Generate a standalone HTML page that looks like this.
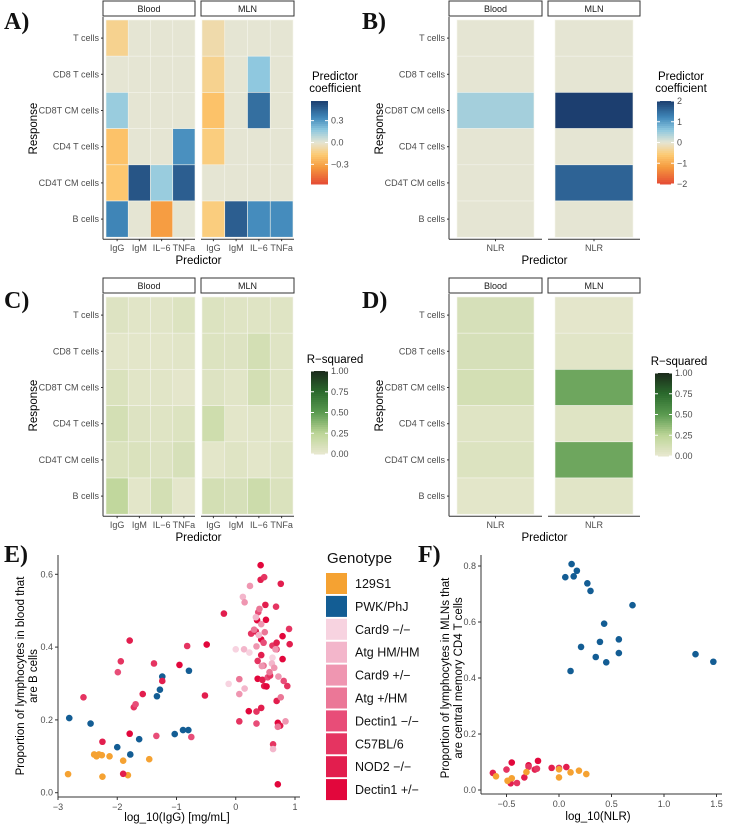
<!DOCTYPE html>
<html><head><meta charset="utf-8"><style>
body{margin:0;background:#fff}
svg{display:block;font-family:"Liberation Sans",Arial,sans-serif}
.tk{font-size:9px;fill:#4d4d4d}
.at{font-size:11.5px;fill:#000}
.lt{font-family:"Liberation Serif",serif;font-size:24px;font-weight:bold;fill:#111}
.st{font-size:9px;fill:#1a1a1a}
</style></head><body>
<svg id="fig" width="729" height="824" viewBox="0 0 729 824"></svg>
<script>
const rows=["T cells","CD8 T cells","CD8T CM cells","CD4 T cells","CD4T CM cells","B cells"];
const predA=["IgG","IgM","IL\u22126","TNFa"];
const coefBlood=[[-0.12,0,0,0],[0,0,0,0],[0.15,0,0,0],[-0.2,0,0,0.32],[-0.18,0.5,0.15,0.47],[0.35,0,-0.33,0]];
const coefMLN=[[-0.07,0,0,0],[-0.12,0,0.17,0],[-0.2,0,0.42,0],[-0.15,0,0,0],[0,0,0,0],[-0.15,0.47,0.33,0.33]];
const coefNLRBlood=[0,0,0.45,0,0,0];
const coefNLRMLN=[0,0,2.0,0,1.6,0];
const r2Blood=[[.06,.04,.04,.07],[.03,.03,.03,.04],[.08,.04,.04,.02],[.12,.06,.05,.07],[.08,.08,.06,.1],[.22,.03,.12,.02]];
const r2MLN=[[.07,.05,.05,.05],[.07,.06,.12,.05],[.06,.04,.12,.05],[.15,.03,.04,.03],[.03,.05,.03,.05],[.12,.1,.16,.08]];
const r2NLRBlood=[.1,.1,.12,.05,.07,.03];
const r2NLRMLN=[.02,.04,.45,.05,.45,.04];
const genotypes=["129S1","PWK/PhJ","Card9 \u2212/\u2212","Atg HM/HM","Card9 +/\u2212","Atg +/HM","Dectin1 \u2212/\u2212","C57BL/6","NOD2 \u2212/\u2212","Dectin1 +/\u2212"];
const genoColors=["#f5a232","#135d94","#f7d3e0","#f3b6cb","#ef96b1","#eb7797","#e84d78","#e53461","#e21e4e","#e2073c"];
const eX=[-2.83,-2.39,-2.35,-2.31,-2.26,-2.13,-2.25,-1.9,-1.82,-1.46,
-2.81,-2.45,-2.0,-1.78,-1.63,-1.33,-1.28,-1.24,-1.03,-0.89,-0.8,-0.79,
-2.57,-2.25,-1.99,-1.94,-1.79,-1.79,-1.9,-1.72,-1.69,-1.57,-1.38,-1.34,-1.24,-0.95,-0.82,-0.75,-0.52,-0.49,
-0.2,0.06,0.42,0.42,0.48,0.5,0.51,0.68,0.76,0.38,0.36,0.26,0.34,0.43,0.47,0.62,0.69,0.79,0.9,0.91,0.69,0.79,0.43,0.37,0.37,0.45,0.54,0.58,0.48,0.52,0.81,0.87,0.69,0.22,0.35,0.43,0.35,0.71,0.75,0.63,0.71,
0,0.14,0.23,0.24,0.12,0.15,0.4,0.34,0.43,0.31,0.39,0.35,0.06,-0.12,0.15,0.06,0.47,0.62,0.61,0.65,0.57,0.72,0.76,0.84,0.71,0.63,0.67,0.49,0.44];
const eY=[.051,.105,.1,.105,.103,.1,.044,.088,.048,.092,
.205,.19,.125,.105,.147,.265,.283,.319,.161,.172,.172,.335,
.262,.14,.331,.361,.418,.162,.052,.235,.243,.271,.355,.156,.307,.351,.403,.153,.267,.407,
.492,.196,.625,.585,.592,.516,.475,.511,.574,.496,.474,.437,.443,.421,.412,.404,.412,.43,.45,.408,.394,.367,.378,.362,.313,.31,.317,.322,.293,.292,.307,.293,.252,.224,.223,.233,.19,.192,.184,.133,.023,
.394,.394,.385,.568,.538,.523,.505,.482,.463,.448,.433,.402,.312,.299,.286,.271,.349,.371,.355,.343,.331,.319,.262,.196,.181,.12,.394,.441,.348];
const eG=[0,0,0,0,0,0,0,0,0,0,
1,1,1,1,1,1,1,1,1,1,1,1,
7,8,6,7,8,9,8,7,6,8,7,6,8,9,7,6,8,9,
8,7,9,8,7,8,9,7,8,6,9,7,8,9,6,7,8,9,7,8,6,9,8,7,9,8,6,7,8,9,6,7,8,9,7,8,6,9,8,7,9,
2,3,2,4,3,4,5,3,4,5,3,4,5,2,3,4,5,2,3,4,5,4,5,4,5,3,4,5,4];
const fX=[0.12,0.17,0.06,0.14,0.27,0.3,0.7,0.43,0.39,0.57,0.21,0.57,0.35,0.45,0.11,1.3,1.47,
-0.63,-0.5,-0.45,-0.46,-0.4,-0.33,-0.29,-0.29,-0.23,-0.21,-0.2,-0.07,0,0.07,
-0.6,-0.49,-0.45,-0.31,0,0,0.11,0.19,0.26];
const fY=[.807,.783,.76,.763,.738,.711,.66,.594,.529,.538,.511,.489,.475,.456,.425,.485,.458,
.061,.073,.098,.024,.025,.045,.088,.083,.073,.076,.104,.079,.079,.082,
.049,.033,.042,.064,.074,.045,.063,.069,.057];
const fG=[1,1,1,1,1,1,1,1,1,1,1,1,1,1,1,1,1,
8,7,9,8,7,8,9,7,8,7,9,8,7,8,
0,0,0,0,0,0,0,0,0];

const NS="http://www.w3.org/2000/svg";
const svg=document.getElementById('fig');
function el(tag,attrs,parent,txt){const e=document.createElementNS(NS,tag);for(const k in attrs)e.setAttribute(k,attrs[k]);if(txt!==undefined)e.textContent=txt;(parent||svg).appendChild(e);return e;}
function hex(h){return [1,3,5].map(i=>parseInt(h.substr(i,2),16));}
function interp(stops,t){t=Math.max(stops[0][0],Math.min(stops[stops.length-1][0],t));for(let i=0;i<stops.length-1;i++){const a=stops[i],b=stops[i+1];if(t<=b[0]){const f=(t-a[0])/(b[0]-a[0]);const ca=hex(a[1]),cb=hex(b[1]);return 'rgb('+ca.map((v,j)=>Math.round(v+(cb[j]-v)*f)).join(',')+')';}}return stops[stops.length-1][1];}
const divStops=[[-1,'#e54b34'],[-0.6,'#f59a3e'],[-0.3,'#fdca72'],[0,'#e5e5d3'],[0.3,'#8ec8df'],[0.6,'#4088ba'],[1,'#1c3e6f']];
const grnStops=[[0,'#e8e8d0'],[0.25,'#bcd596'],[0.5,'#5a9a50'],[0.75,'#2b6a2d'],[1,'#1b2a1b']];
const divCol=(v,m)=>interp(divStops,v/m);
const grnCol=v=>interp(grnStops,v);

function letter(t,x,y){const e=el('text',{x:x,y:y,class:'lt'},svg,t);}

function heatPanel(id,ox,oy,axisX,facets,preds,valsList,colFn){
  const top=oy+20, rh=36.2;
  const g=el('g',{});
  facets.forEach((f,fi)=>{
    const s=el('rect',{x:f.sx0,y:oy+1,width:f.sx1-f.sx0,height:15,fill:'#fff',stroke:'#333','stroke-width':1},g);
    
    el('text',{x:(f.sx0+f.sx1)/2,y:oy+12,class:'st','text-anchor':'middle'},g,f.name);
    const vals=valsList[fi];const nc=preds.length;const cw=(f.x1-f.x0)/nc;
    rows.forEach((r,ri)=>{preds.forEach((p,ci)=>{
      const v=nc===1?vals[ri]:vals[ri][ci];
      const c=el('rect',{x:f.x0+ci*cw,y:top+ri*rh,width:cw,height:rh,fill:colFn(v),stroke:'#f4f4ec','stroke-width':0.6},g);
      
    });});
    el('line',{x1:f.sx0,x2:f.sx1,y1:top+6*rh+2,y2:top+6*rh+2,stroke:'#333','stroke-width':1},g);
    preds.forEach((p,ci)=>{const cx=f.x0+(ci+0.5)*cw;el('line',{x1:cx,x2:cx,y1:top+6*rh+2,y2:top+6*rh+4,stroke:'#333'},g);
      el('text',{x:cx,y:top+6*rh+14,class:'tk','text-anchor':'middle'},g,p);});
  });
  el('line',{x1:axisX,x2:axisX,y1:oy+17,y2:top+6*rh+2,stroke:'#333','stroke-width':1},g);
  rows.forEach((r,ri)=>{const cy=top+(ri+0.5)*rh;el('line',{x1:axisX-2,x2:axisX,y1:cy,y2:cy,stroke:'#333'},g);
    el('text',{x:axisX-4,y:cy+3,class:'tk','text-anchor':'end'},g,r);});
  const xt=el('text',{x:(facets[0].sx0+facets[1].sx1)/2,y:top+6*rh+27,class:'at','text-anchor':'middle'},g,'Predictor');
  
  const yt=el('text',{transform:'translate('+(axisX-66)+','+(top+3*rh)+') rotate(-90)',class:'at','text-anchor':'middle'},g,'Response');
  
}
function colorbar(id,x,y,title,stops,ticks,labels,min,max){
  const g=el('g',{});
  const h=83;const n=40;
  title.forEach((t,i)=>el('text',{x:x+24,y:(title.length>1?y-21:y-8)+i*12,class:'at','text-anchor':'middle','font-size':'11.5'},g,t));
  for(let i=0;i<n;i++){const v=max-(max-min)*(i+0.5)/n;el('rect',{x:x,y:y+i*h/n,width:17,height:h/n+0.5,fill:interp(stops,v)},g);}
  ticks.forEach((t,i)=>{const ty=y+(max-t)/(max-min)*h;el('line',{x1:x,x2:x+3,y1:ty,y2:ty,stroke:'#fff'},g);el('line',{x1:x+14,x2:x+17,y1:ty,y2:ty,stroke:'#fff'},g);
    el('text',{x:x+20,y:ty+3,class:'tk','font-size':'9','fill':'#222'},g,labels[i]);});
}

letter('A)',4,29);
heatPanel('heatmap-a',0,0,103,[{name:'Blood',sx0:103,sx1:195,x0:106,x1:195},{name:'MLN',sx0:201,sx1:294,x0:202,x1:293}],predA,[coefBlood,coefMLN],v=>divCol(v,0.57));
colorbar('legend-a',311,101,['Predictor','coefficient'],divStops.map(s=>[s[0]*0.57,s[1]]),[0.3,0,-0.3],['0.3','0.0','\u22120.3'],-0.57,0.57);
letter('B)',362,29);
heatPanel('heatmap-b',0,0,449,[{name:'Blood',sx0:449,sx1:542,x0:457,x1:534},{name:'MLN',sx0:548,sx1:640,x0:555,x1:633}],['NLR'],[coefNLRBlood,coefNLRMLN],v=>divCol(v,2));
colorbar('legend-b',657,101,['Predictor','coefficient'],divStops.map(s=>[s[0]*2,s[1]]),[2,1,0,-1,-2],['2','1','0','\u22121','\u22122'],-2,2);
letter('C)',4,308);
heatPanel('heatmap-c',0,277,103,[{name:'Blood',sx0:103,sx1:195,x0:106,x1:195},{name:'MLN',sx0:201,sx1:294,x0:202,x1:293}],predA,[r2Blood,r2MLN],grnCol);
colorbar('legend-c',311,371,['R\u2212squared'],grnStops,[1,0.75,0.5,0.25,0],['1.00','0.75','0.50','0.25','0.00'],0,1);
letter('D)',362,308);
heatPanel('heatmap-d',0,277,449,[{name:'Blood',sx0:449,sx1:542,x0:457,x1:534},{name:'MLN',sx0:548,sx1:640,x0:555,x1:633}],['NLR'],[r2NLRBlood,r2NLRMLN],grnCol);
colorbar('legend-d',655,373,['R\u2212squared'],grnStops,[1,0.75,0.5,0.25,0],['1.00','0.75','0.50','0.25','0.00'],0,1);

letter('E)',4,562);
const exs=v=>58+(v+3)*59.25, eys=v=>792.7-v*364;
const ge=el('g',{});
el('line',{x1:58,x2:58,y1:555,y2:797,stroke:'#333'},ge);el('line',{x1:58,x2:300,y1:797,y2:797,stroke:'#333'},ge);
[-3,-2,-1,0,1].forEach(t=>{const x=exs(t);el('line',{x1:x,x2:x,y1:797,y2:800,stroke:'#333'},ge);el('text',{x:x,y:810,class:'tk','text-anchor':'middle'},ge,t<0?'\u2212'+(-t):String(t));});
[0,0.2,0.4,0.6].forEach(t=>{const y=eys(t);el('line',{x1:55,x2:58,y1:y,y2:y,stroke:'#333'},ge);el('text',{x:53,y:y+3,class:'tk','text-anchor':'end'},ge,t.toFixed(1));});
eX.forEach((v,i)=>{const c=el('circle',{cx:exs(v),cy:eys(eY[i]),r:3.3,fill:genoColors[eG[i]]},ge);});
el('text',{x:177,y:821,class:'at','text-anchor':'middle'},ge,'log_10(IgG) [mg/mL]');
const ey=el('text',{transform:'translate(24,676) rotate(-90)',class:'at','text-anchor':'middle'},ge);
el('tspan',{x:0,dy:0},ey,'Proportion of lymphocytes in blood that');el('tspan',{x:0,dy:13},ey,'are B cells');

const gl=el('g',{});
el('text',{x:327,y:563,'font-size':'15','fill':'#111'},gl,'Genotype');
genotypes.forEach((gname,i)=>{const y=573+i*22.9;const r=el('rect',{x:326,y:y,width:21,height:21,fill:genoColors[i]},gl);
  
  el('text',{x:355,y:y+15,'font-size':'12.5','fill':'#111'},gl,gname);});

letter('F)',418,562);
const fxs=v=>559+v*105, fys=v=>790-v*280;
const gf=el('g',{});
el('line',{x1:481,x2:481,y1:555,y2:794,stroke:'#333'},gf);el('line',{x1:481,x2:722,y1:794,y2:794,stroke:'#333'},gf);
[-0.5,0,0.5,1,1.5].forEach(t=>{const x=fxs(t);el('line',{x1:x,x2:x,y1:794,y2:797,stroke:'#333'},gf);el('text',{x:x,y:807,class:'tk','text-anchor':'middle'},gf,(t<0?'\u2212':'')+Math.abs(t).toFixed(1));});
[0,0.2,0.4,0.6,0.8].forEach(t=>{const y=fys(t);el('line',{x1:478,x2:481,y1:y,y2:y,stroke:'#333'},gf);el('text',{x:476,y:y+3,class:'tk','text-anchor':'end'},gf,t.toFixed(1));});
fX.forEach((v,i)=>{const c=el('circle',{cx:fxs(v),cy:fys(fY[i]),r:3.3,fill:genoColors[fG[i]]},gf);});
el('text',{x:598,y:820,class:'at','text-anchor':'middle'},gf,'log_10(NLR)');
const fy=el('text',{transform:'translate(449,678) rotate(-90)',class:'at','text-anchor':'middle'},gf);
el('tspan',{x:0,dy:0},fy,'Proportion of lymphocytes in MLNs that');el('tspan',{x:0,dy:13},fy,'are central memory CD4 T cells');
</script>
</body></html>
